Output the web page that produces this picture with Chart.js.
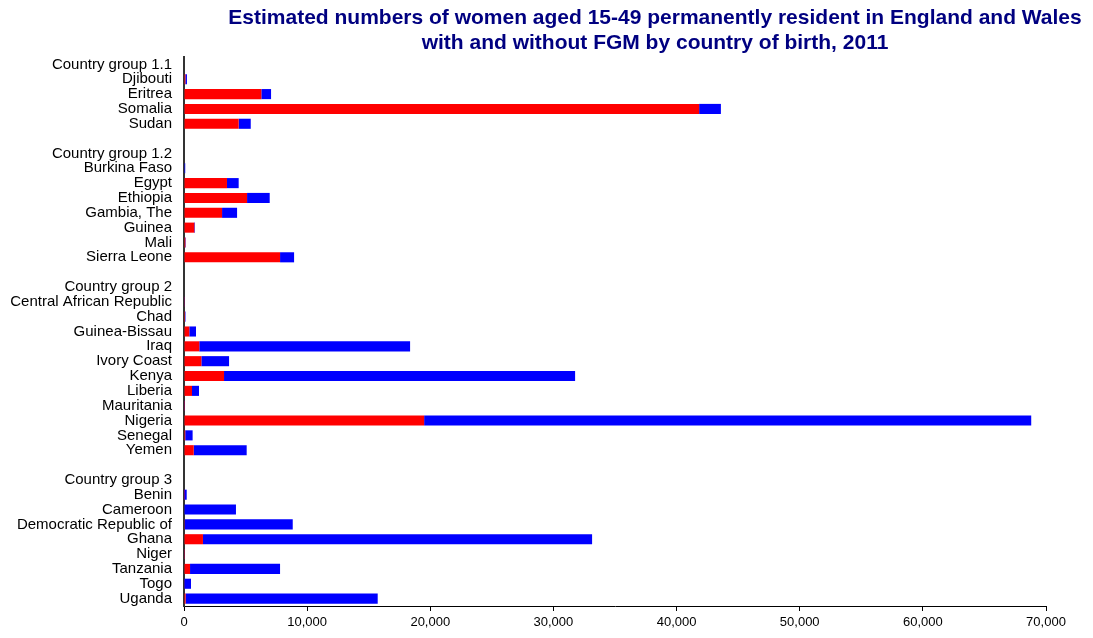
<!DOCTYPE html>
<html>
<head>
<meta charset="utf-8">
<script src="https://cdn.jsdelivr.net/npm/chart.js@4/dist/chart.umd.min.js"></script>
<style>
  html, body { margin: 0; padding: 0; background: #fff; }
  #wrap { position: relative; width: 1093px; height: 638px; }
</style>
</head>
<body>
<div id="wrap"><canvas id="myChart" width="1093" height="638"></canvas></div>
<script>
const titleLines = [
  'Estimated numbers of women aged 15-49 permanently resident in England and Wales',
  'with and without FGM by country of birth, 2011'
];

const countries = [
  'Country group 1.1', 'Djibouti', 'Eritrea', 'Somalia', 'Sudan', '',
  'Country group 1.2', 'Burkina Faso', 'Egypt', 'Ethiopia', 'Gambia, The', 'Guinea', 'Mali', 'Sierra Leone', '',
  'Country group 2', 'Central African Republic', 'Chad', 'Guinea-Bissau', 'Iraq', 'Ivory Coast', 'Kenya',
  'Liberia', 'Mauritania', 'Nigeria', 'Senegal', 'Yemen', '',
  'Country group 3', 'Benin', 'Cameroon', 'Democratic Republic of', 'Ghana', 'Niger', 'Tanzania', 'Togo', 'Uganda'
];

// women with FGM (red)
const withFGM = [
  null, 110, 6280, 41830, 4440, null,
  null, 40, 3490, 5120, 3090, 840, 110, 7800, null,
  null, 20, 80, 430, 1240, 1410, 3250,
  650, 10, 19500, 100, 790, null,
  null, 10, 40, 60, 1540, 10, 490, 30, 130
];

// women without FGM (blue)
const withoutFGM = [
  null, 130, 790, 1770, 980, null,
  null, 60, 950, 1840, 1220, 50, 40, 1140, null,
  null, 20, 40, 545, 17120, 2250, 28510,
  570, 30, 49300, 600, 4300, null,
  null, 210, 4180, 8770, 31600, 20, 7310, 540, 15600
];

const xTicks = [0, 10000, 20000, 30000, 40000, 50000, 60000, 70000];

// title is centred over x=655 in the original, so draw it by hand
const titlePlugin = {
  id: 'offsetTitle',
  afterDraw(chart) {
    const ctx = chart.ctx;
    ctx.save();
    ctx.fillStyle = '#000080';
    ctx.font = 'bold 21px "Liberation Sans", Arial, sans-serif';
    ctx.textAlign = 'center';
    ctx.textBaseline = 'middle';
    ctx.fillText(titleLines[0], 655, 18);
    ctx.fillText(titleLines[1], 655, 43);
    ctx.restore();
  }
};

const ctx = document.getElementById('myChart').getContext('2d');
new Chart(ctx, {
  type: 'bar',
  data: {
    labels: countries,
    datasets: [
      { label: 'With FGM', data: withFGM, backgroundColor: '#FF0000', borderWidth: 0 },
      { label: 'Without FGM', data: withoutFGM, backgroundColor: '#0000FF', borderWidth: 0 }
    ]
  },
  options: {
    indexAxis: 'y',
    responsive: false,
    animation: false,
    layout: { padding: { top: 57, right: 47, bottom: 0, left: 0 } },
    datasets: { bar: { barPercentage: 0.68, categoryPercentage: 1 } },
    scales: {
      x: {
        stacked: true,
        min: 0,
        max: 70000,
        afterBuildTicks: s => { s.ticks = xTicks.map(v => ({ value: v })); },
        afterFit: s => { s.height = 32; },
        grid: { drawOnChartArea: false, drawTicks: true, tickLength: 5, color: '#000' },
        border: { display: true, color: '#000', width: 1 },
        ticks: {
          color: '#000',
          padding: 4,
          font: { family: '"Liberation Sans", Arial, sans-serif', size: 13 },
          callback: v => v.toLocaleString('en-US')
        }
      },
      y: {
        stacked: true,
        afterFit: s => { s.width = 184; },
        grid: { display: false },
        border: { display: true, color: '#333', width: 2 },
        ticks: {
          color: '#000',
          padding: 4,
          autoSkip: false,
          font: { family: '"Liberation Sans", Arial, sans-serif', size: 15 }
        }
      }
    },
    plugins: {
      legend: { display: false },
      title: { display: false },
      tooltip: { enabled: false }
    }
  },
  plugins: [titlePlugin]
});
</script>
</body>
</html>
